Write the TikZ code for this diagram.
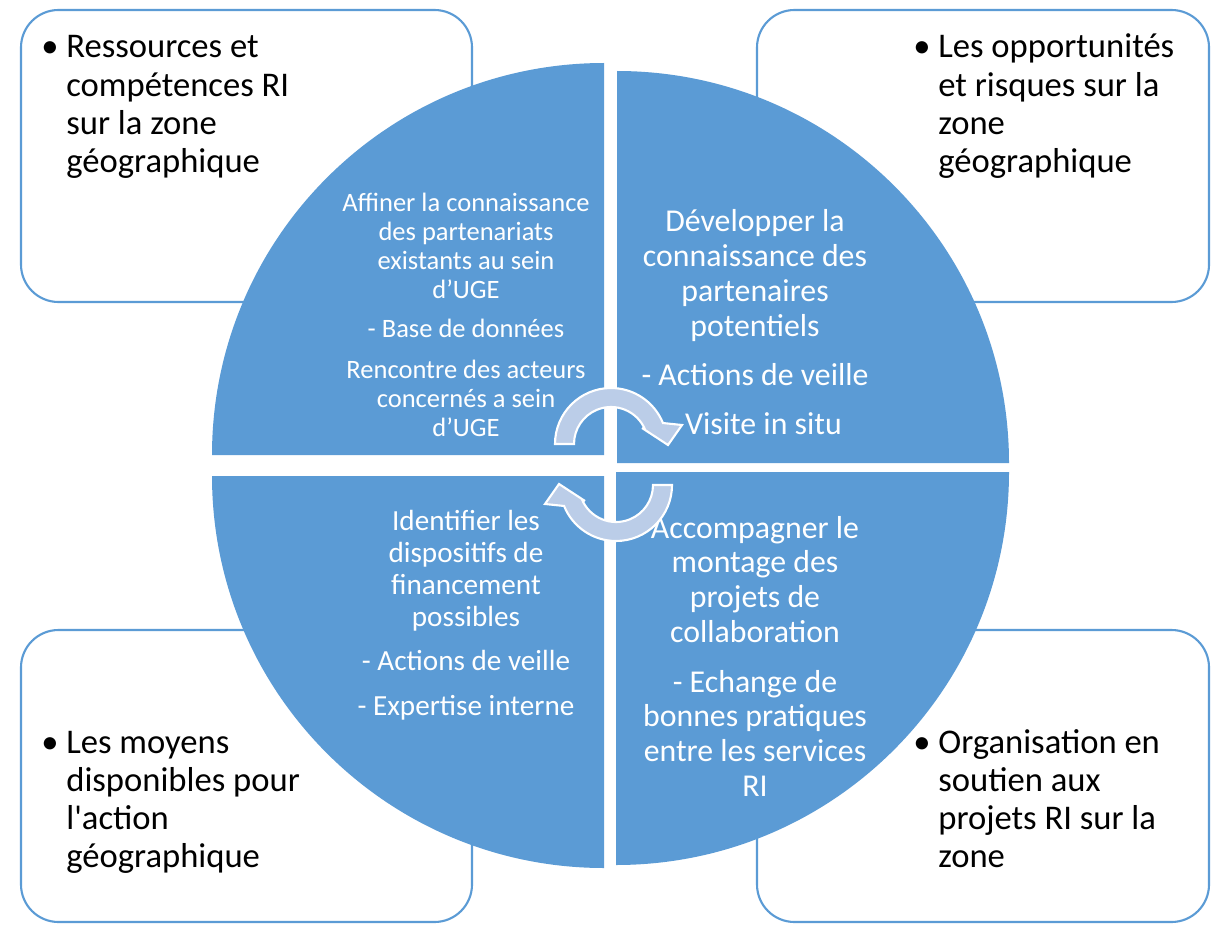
\documentclass[tikz,border=0pt]{standalone}
\usepackage{fontspec}
\setmainfont{Carlito}
\definecolor{quadblue}{RGB}{91,155,213}
\definecolor{arrowfill}{RGB}{187,205,232}
\tikzset{
  cornerbox/.style={draw=quadblue, line width=1.2pt, fill=white, rounded corners=0.75cm},
  quadrant/.style={fill=quadblue},
  cyclearrow/.style={fill=arrowfill, draw=white, line width=1.2pt},
  boxtext/.style={anchor=base west, inner sep=0pt, text=black, font=\fontsize{19.7}{21.8}\selectfont},
  quadtext/.style={anchor=base, inner sep=0pt, text=white}
}
\newcommand{\bulletlines}[1]{\makebox[0.5cm][l]{\textbullet}\begin{tabular}[t]{@{}l@{}}#1\end{tabular}}
\newcommand{\centerlines}[1]{\begin{tabular}[t]{@{}c@{}}#1\end{tabular}}
\begin{document}
\begin{tikzpicture}[x=0.02cm, y=0.02cm]
  \useasboundingbox (0,0) rectangle (1216,-929);
  % corner boxes
  \draw[cornerbox] (21,-10) rectangle (472,-302);
  \draw[cornerbox] (757,-10) rectangle (1209,-302);
  \draw[cornerbox] (21,-630) rectangle (472,-922);
  \draw[cornerbox] (757,-630) rectangle (1209,-922);
  % quadrants
  \fill[quadrant] (604,-455) -- (212,-455) arc[start angle=180, end angle=90, radius=392] -- cycle;
  \fill[quadrant] (617,-463) -- (617,-71) arc[start angle=90, end angle=0, radius=392] -- cycle;
  \fill[quadrant] (604,-476) -- (604,-868) arc[start angle=270, end angle=180, radius=392] -- cycle;
  \fill[quadrant] (616,-472) -- (1009,-472) arc[start angle=0, end angle=-90, radius=393] -- cycle;

  \node[boxtext] (res) at (41,-58) {\bulletlines{Ressources et\\compétences RI\\sur la zone\\géographique}};
  \node[boxtext] (opp) at (913,-58) {\bulletlines{Les opportunités\\et risques sur la\\zone\\géographique}};
  \node[boxtext] (moy) at (41,-753) {\bulletlines{Les moyens\\disponibles pour\\l\textquotesingle action\\géographique}};
  \node[boxtext] (org) at (913,-753) {\bulletlines{Organisation en\\soutien aux\\projets RI sur la\\zone}};

  \node[quadtext, font=\fontsize{15.1}{16.4}\selectfont] (affiner) at (466,-212)
    {\centerlines{Affiner la connaissance\\des partenariats\\existants au sein\\d’UGE\\[6pt]- Base de données\\[7pt]Rencontre des acteurs\\concernés a sein\\d’UGE}};
  \node[quadtext, font=\fontsize{18.1}{19.8}\selectfont] (developper) at (755,-232)
    {\centerlines{Développer la\\connaissance des\\partenaires\\potentiels\\[8pt]- Actions de veille\\[8pt]\phantom{- }Visite in situ}};
  \node[quadtext, font=\fontsize{16.6}{18.3}\selectfont] (identifier) at (466,-530)
    {\centerlines{Identifier les\\dispositifs de\\financement\\possibles\\[7pt]- Actions de veille\\[7pt]- Expertise interne}};
  \node[quadtext, font=\fontsize{18.1}{19.8}\selectfont] (accompagner) at (755,-538)
    {\centerlines{Accompagner le\\montage des\\projets de\\collaboration\\[8.5pt]- Echange de\\bonnes pratiques\\entre les services\\RI}};

  % cycle arrows
  \begin{scope}[shift={(611,-444)}]
    \draw[cyclearrow] (-56,0) arc[start angle=180, end angle=22, radius=56] -- (71,19) -- (57,-1) -- (31,16)
      -- (22:37) arc[start angle=22, end angle=180, radius=37] -- cycle;
  \end{scope}
  \begin{scope}[shift={(616,-485)}, rotate=180]
    \draw[cyclearrow] (-56,0) arc[start angle=180, end angle=22, radius=56] -- (71,19) -- (57,-1) -- (31,16)
      -- (22:37) arc[start angle=22, end angle=180, radius=37] -- cycle;
  \end{scope}
\end{tikzpicture}
\end{document}
